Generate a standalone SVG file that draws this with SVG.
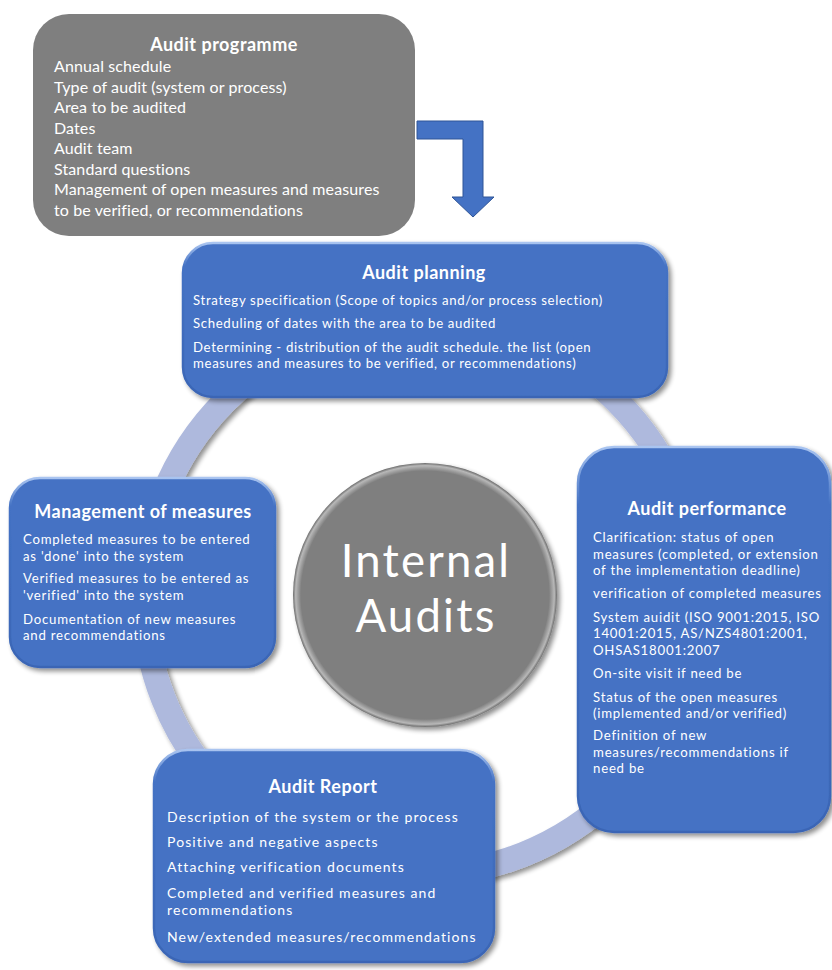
<svg xmlns="http://www.w3.org/2000/svg" width="832" height="970" viewBox="0 0 832 970">
<defs>
<filter id="sh" x="-10%" y="-10%" width="125%" height="125%">
<feGaussianBlur in="SourceAlpha" stdDeviation="2.5"/>
<feOffset dx="3" dy="3" result="b"/>
<feComponentTransfer><feFuncA type="linear" slope="0.45"/></feComponentTransfer>
<feMerge><feMergeNode/><feMergeNode in="SourceGraphic"/></feMerge>
</filter>
<linearGradient id="bevel" x1="0" y1="0" x2="0" y2="1">
<stop offset="0" stop-color="#a9c4f0"/>
<stop offset="0.15" stop-color="#4472c4"/>
<stop offset="1" stop-color="#3a65b5"/>
</linearGradient>
<radialGradient id="cg" cx="0.5" cy="0.5" r="0.5">
<stop offset="0.94" stop-color="#7f7f7f"/>
<stop offset="0.98" stop-color="#b8b8b8"/>
<stop offset="1" stop-color="#6a6a6a"/>
</radialGradient>
</defs>
<style>
.box{fill:#4472c4;stroke:url(#bevel);stroke-width:2.5;filter:url(#sh)}
.gbox{fill:#7f7f7f}
.t{font-family:Lato,"Open Sans","Liberation Sans",sans-serif;fill:#ffffff}
.h{font-weight:bold;font-size:18px;letter-spacing:0.5px;text-anchor:middle}
.bp{font-size:13.2px;letter-spacing:0.66px}
.bf{font-size:13.2px;letter-spacing:0.78px}
.bm{font-size:13.2px;letter-spacing:0.77px}
.bg{font-size:16px;letter-spacing:0.12px}
.br{font-size:14px;letter-spacing:1.1px}
.c{font-size:45.5px;letter-spacing:2.2px;text-anchor:middle}
</style>
<g id="connectors">
<circle cx="421" cy="597" r="277" fill="none" stroke="#aeb9dd" stroke-width="25" filter="url(#sh)"/>
<path d="M417,121 H483 V197 H494 L473,217 L452,197 H463 V139 H417 Z" fill="#4472c4" stroke="#2f5597" stroke-width="1"/>
</g>
<g id="audit-programme">
<rect class="gbox" x="33" y="14" width="382" height="222" rx="36"/>
<text class="t h" x="224" y="51">Audit programme</text>
<text class="t bg" x="54" y="72">Annual schedule</text>
<text class="t bg" x="54" y="92.5">Type of audit (system or process)</text>
<text class="t bg" x="54" y="113">Area to be audited</text>
<text class="t bg" x="54" y="133.5">Dates</text>
<text class="t bg" x="54" y="154">Audit team</text>
<text class="t bg" x="54" y="174.5">Standard questions</text>
<text class="t bg" x="54" y="195">Management of open measures and measures</text>
<text class="t bg" x="54" y="215.5">to be verified, or recommendations</text>
</g>
<g id="center">
<circle cx="425" cy="595" r="132" fill="url(#cg)" filter="url(#sh)"/>
<text class="t c" x="426" y="577">Internal</text>
<text class="t c" x="426" y="632">Audits</text>
</g>
<g id="audit-planning">
<rect class="box" x="183" y="243" width="484" height="154" rx="30"/>
<text class="t h" x="424" y="279">Audit planning</text>
<text class="t bp" x="193" y="305">Strategy specification (Scope of topics and/or process selection)</text>
<text class="t bp" x="193" y="328">Scheduling of dates with the area to be audited</text>
<text class="t bp" x="193" y="352">Determining - distribution of the audit schedule. the list (open</text>
<text class="t bp" x="193" y="368">measures and measures to be verified, or recommendations)</text>
</g>
<g id="audit-performance">
<rect class="box" x="578" y="447" width="252" height="385" rx="36"/>
<text class="t h" x="707" y="515">Audit performance</text>
<text class="t bf" x="593" y="542">Clarification: status of open</text>
<text class="t bf" x="593" y="559">measures (completed, or extension</text>
<text class="t bf" x="593" y="575">of the implementation deadline)</text>
<text class="t bf" x="593" y="598">verification of completed measures</text>
<text class="t bf" x="593" y="622">System auidit (ISO 9001:2015, ISO</text>
<text class="t bf" x="593" y="638">14001:2015, AS/NZS4801:2001,</text>
<text class="t bf" x="593" y="655">OHSAS18001:2007</text>
<text class="t bf" x="593" y="678">On-site visit if need be</text>
<text class="t bf" x="593" y="702">Status of the open measures</text>
<text class="t bf" x="593" y="718">(implemented and/or verified)</text>
<text class="t bf" x="593" y="740">Definition of new</text>
<text class="t bf" x="593" y="757">measures/recommendations if</text>
<text class="t bf" x="593" y="773">need be</text>
</g>
<g id="management-of-measures">
<rect class="box" x="10" y="478" width="265" height="189" rx="30"/>
<text class="t h" x="143" y="518">Management of measures</text>
<text class="t bm" x="23" y="544">Completed measures to be entered</text>
<text class="t bm" x="23" y="561">as 'done' into the system</text>
<text class="t bm" x="23" y="583">Verified measures to be entered as</text>
<text class="t bm" x="23" y="600">'verified' into the system</text>
<text class="t bm" x="23" y="624">Documentation of new measures</text>
<text class="t bm" x="23" y="640">and recommendations</text>
</g>
<g id="audit-report">
<rect class="box" x="154" y="750" width="340" height="212" rx="34"/>
<text class="t h" x="323" y="793">Audit Report</text>
<text class="t br" x="167" y="822">Description of the system or the process</text>
<text class="t br" x="167" y="847">Positive and negative aspects</text>
<text class="t br" x="167" y="872">Attaching verification documents</text>
<text class="t br" x="167" y="898">Completed and verified measures and</text>
<text class="t br" x="167" y="915">recommendations</text>
<text class="t br" x="167" y="942">New/extended measures/recommendations</text>
</g>
</svg>
